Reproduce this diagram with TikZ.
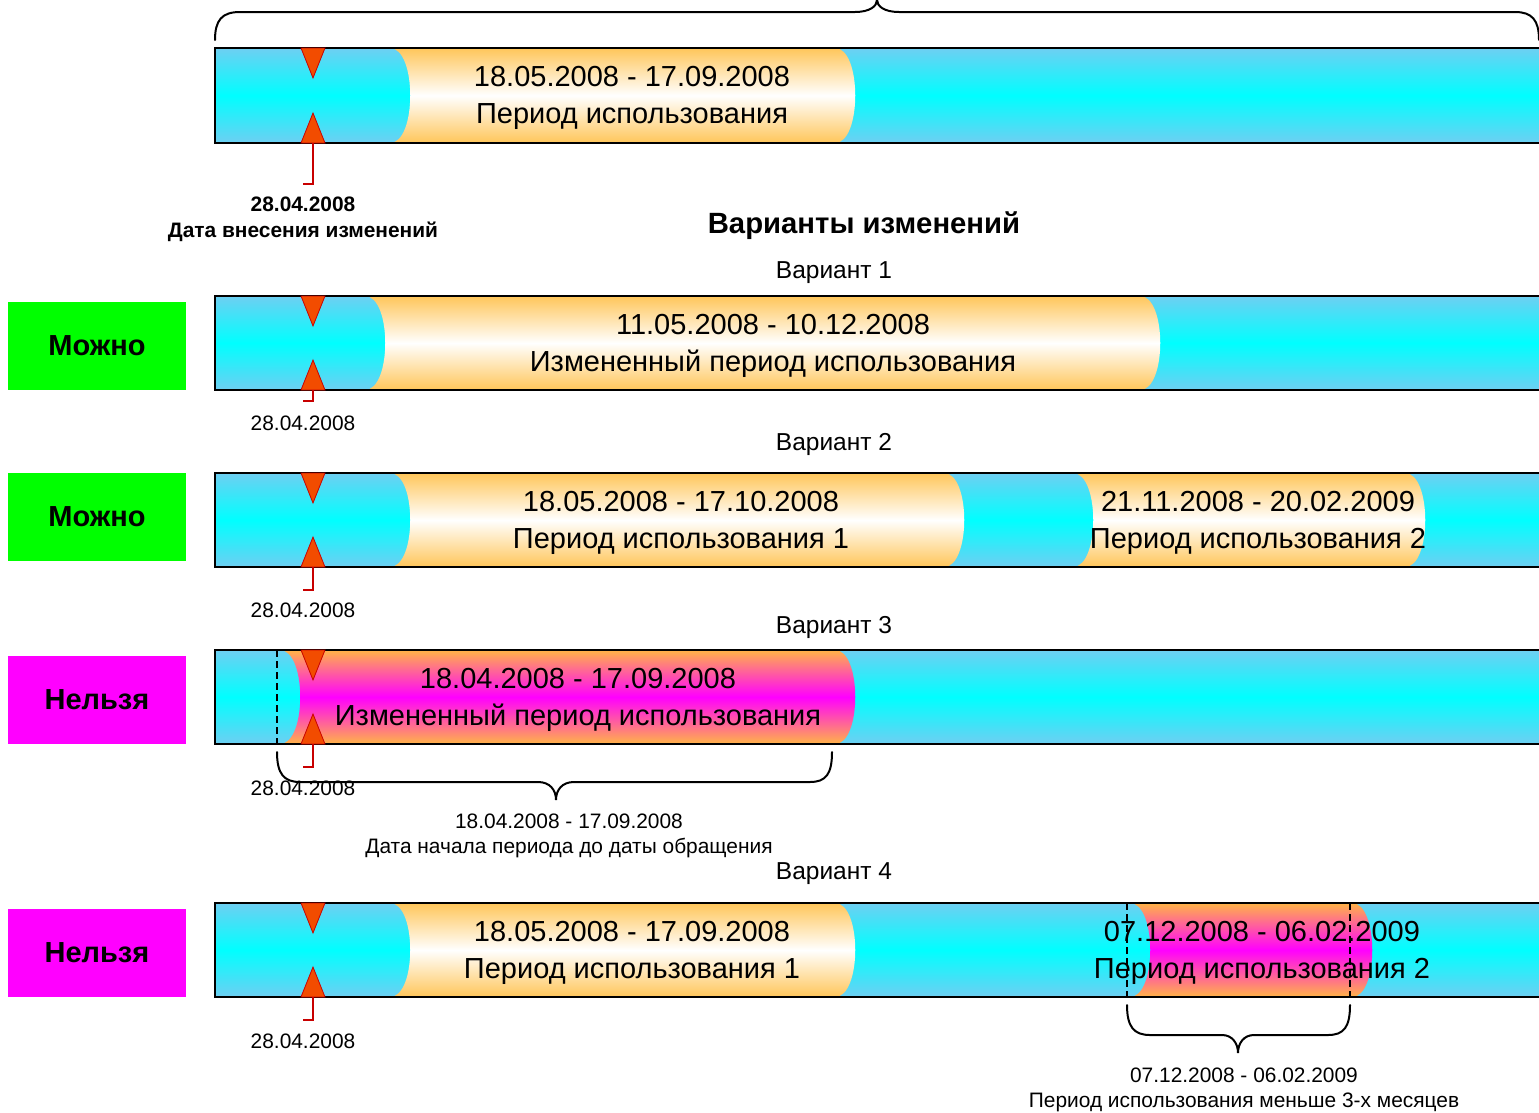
\documentclass[tikz,border=0pt]{standalone}
\usepackage{fontspec}
\setmainfont{Liberation Sans}
\definecolor{cyE}{RGB}{110,207,242}
\definecolor{cyM}{RGB}{0,255,255}
\definecolor{orE}{RGB}{255,198,90}
\definecolor{maE}{RGB}{255,180,70}
\definecolor{maM}{RGB}{255,0,255}
\definecolor{triF}{RGB}{242,76,0}
\definecolor{triD}{RGB}{200,0,0}
\definecolor{okG}{RGB}{0,255,0}
\definecolor{noM}{RGB}{255,0,255}
\newcommand\drawbarbg[2]{\shade[top color=cyE, bottom color=cyE, middle color=cyM] (215,#1) rectangle (1560,#2);}
\newcommand\drawperiod[5]{\shade[#5] (#1,#3) -- (#2,#3) .. controls ({#2+27},#3) and ({#2+27},#4) .. (#2,#4) -- (#1,#4) .. controls ({#1+27},#4) and ({#1+27},#3) .. (#1,#3) -- cycle;}
\newcommand\drawbarline[2]{\draw[barline] (1560,#1) -- (215,#1) -- (215,#2) -- (1560,#2);}
\newcommand\drawmarker[3]{%
  \filldraw[tri] (301,#1) -- (325,#1) -- (313,{#1+30}) -- cycle;
  \filldraw[tri] (301,#2) -- (325,#2) -- (313,{#2-30}) -- cycle;
  \draw[redline] (313,#2) -- (313,#3) -- (303,#3);}
\begin{document}
\begin{tikzpicture}[x=1pt,y=-1pt,
  orper/.style={top color=orE, bottom color=orE, middle color=white},
  maper/.style={top color=maE, bottom color=maE, middle color=maM},
  barline/.style={draw=black, line width=2pt},
  tri/.style={fill=triF, draw=triD, line width=0.8pt},
  redline/.style={draw=triD, line width=1.2pt},
  brace/.style={draw=black, line width=2pt, line cap=round},
  dashv/.style={draw=black, line width=1.2pt, dash pattern=on 7pt off 4pt},
  bigtxt/.style={font=\fontsize{29}{37}\selectfont, align=center, inner sep=0pt},
  vartxt/.style={font=\fontsize{24.5}{30}\selectfont, inner sep=0pt},
  smtxt/.style={font=\fontsize{20.9}{26}\selectfont, inner sep=0pt},
  smbold/.style={font=\fontsize{20.9}{26}\selectfont\bfseries, inner sep=0pt},
  boxtxt/.style={font=\fontsize{29}{34}\selectfont\bfseries, inner sep=0pt},
  titletxt/.style={font=\fontsize{29.3}{34}\selectfont\bfseries, inner sep=0pt}]
\clip (0,0) rectangle (1539,1112);
\fill[white] (0,0) rectangle (1539,1112);

% ---------- top bar ----------
\draw[brace] (215,40) .. controls (215,20) and (222,12) .. (240,12) -- (855,12)
  .. controls (870,12) and (877,6) .. (877,0) .. controls (877,6) and (884,12) .. (899,12)
  -- (1515,12) .. controls (1532,12) and (1539,20) .. (1539,40);
\drawbarbg{48}{143}
\drawperiod{390}{835}{48}{143}{orper}
\drawbarline{48}{143}
\drawmarker{48}{143}{184}
\node[bigtxt] (t0) at (632,98) {18.05.2008 - 17.09.2008\\Период использования};
\node[smbold] (d0) at (303,204) {28.04.2008};
\node[smbold] (d0t) at (303,232) {Дата внесения изменений};
\node[titletxt] (title) at (864,226) {Варианты изменений};

% ---------- variant 1 ----------
\node[vartxt] (v1) at (834,273) {Вариант 1};
\fill[okG] (8,302) rectangle (186,390);
\node[boxtxt] (b1) at (97,346) {Можно};
\drawbarbg{296}{390}
\drawperiod{365}{1140}{296}{390}{orper}
\drawbarline{296}{390}
\drawmarker{296}{390}{401}
\node[bigtxt] (t1) at (773,346) {11.05.2008 - 10.12.2008\\Измененный период использования};
\node[smtxt] (d1) at (303,423) {28.04.2008};

% ---------- variant 2 ----------
\node[vartxt] (v2) at (834,444) {Вариант 2};
\fill[okG] (8,473) rectangle (186,561);
\node[boxtxt] (b2) at (97,517) {Можно};
\drawbarbg{473}{567}
\drawperiod{390}{944}{473}{567}{orper}
\drawperiod{1073}{1405}{473}{567}{orper}
\drawbarline{473}{567}
\drawmarker{473}{567}{590}
\node[bigtxt] (t2a) at (681,523) {18.05.2008 - 17.10.2008\\Период использования 1};
\node[bigtxt] (t2b) at (1258,523) {21.11.2008 - 20.02.2009\\Период использования 2};
\node[smtxt] (d2) at (303,610) {28.04.2008};

% ---------- variant 3 ----------
\node[vartxt] (v3) at (834,627) {Вариант 3};
\fill[noM] (8,656) rectangle (186,744);
\node[boxtxt] (b3) at (97,700) {Нельзя};
\drawbarbg{650}{744}
\drawperiod{280}{835}{650}{744}{maper}
\draw[dashv] (277,650) -- (277,744);
\drawbarline{650}{744}
\drawmarker{650}{744}{767}
\node[bigtxt] (t3) at (578,700) {18.04.2008 - 17.09.2008\\Измененный период использования};
\node[smtxt] (d3) at (303,788) {28.04.2008};
\draw[brace] (277,752) .. controls (277,774) and (284,782) .. (300,782) -- (538,782)
  .. controls (550,782) and (556,790) .. (556,800) .. controls (556,790) and (562,782) .. (574,782)
  -- (810,782) .. controls (826,782) and (832,774) .. (832,752);
\node[smtxt] (l3a) at (569,821) {18.04.2008 - 17.09.2008};
\node[smtxt] (l3b) at (569,848) {Дата начала периода до даты обращения};

% ---------- variant 4 ----------
\node[vartxt] (v4) at (834,874) {Вариант 4};
\fill[noM] (8,909) rectangle (186,997);
\node[boxtxt] (b4) at (97,953) {Нельзя};
\drawbarbg{903}{997}
\drawperiod{390}{835}{903}{997}{orper}
\drawperiod{1130}{1352}{903}{997}{maper}
\drawbarline{903}{997}
\drawmarker{903}{997}{1020}
\node[bigtxt] (t4a) at (632,953) {18.05.2008 - 17.09.2008\\Период использования 1};
\node[bigtxt] (t4b) at (1262,953) {07.12.2008 - 06.02.2009\\Период использования 2};
\draw[dashv] (1127,903) -- (1127,997);
\draw[dashv] (1350,903) -- (1350,997);
\node[smtxt] (d4) at (303,1041) {28.04.2008};
\draw[brace] (1127,1005) .. controls (1127,1027) and (1134,1035) .. (1150,1035) -- (1222,1035)
  .. controls (1232,1035) and (1238,1043) .. (1238,1053) .. controls (1238,1043) and (1244,1035) .. (1254,1035)
  -- (1328,1035) .. controls (1344,1035) and (1350,1027) .. (1350,1005);
\node[smtxt] (l4a) at (1244,1075) {07.12.2008 - 06.02.2009};
\node[smtxt] (l4b) at (1244,1102) {Период использования меньше 3-х месяцев};
\end{tikzpicture}
\end{document}
